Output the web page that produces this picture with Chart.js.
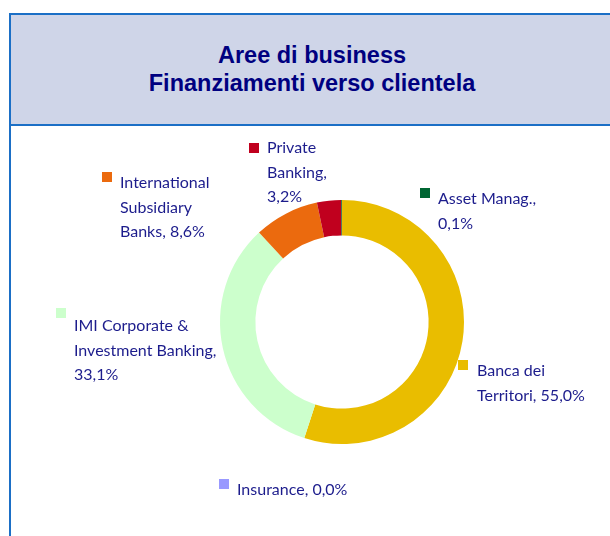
<!DOCTYPE html>
<html lang="it">
<head>
  <meta charset="UTF-8" />
  <title>Aree di business - Finanziamenti verso clientela</title>
  <script src="https://cdn.jsdelivr.net/npm/chart.js"></script>
  <style>
    html, body {
      margin: 0;
      padding: 0;
      background: #ffffff;
      width: 610px;
      height: 536px;
      overflow: hidden;
    }
    .header {
      position: absolute;
      left: 9px;
      top: 13px;
      width: 640px;
      height: 109px;
      background: #cfd5e8;
      border-top: 2px solid #1b6fc6;
      border-bottom: 2px solid #1b6fc6;
    }
    .left-line {
      position: absolute;
      left: 9px;
      top: 13px;
      width: 2px;
      height: 523px;
      background: #1b6fc6;
    }
    .title {
      position: absolute;
      left: 9px;
      width: 606px;
      top: 41px;
      text-align: center;
      font-family: "Liberation Sans", Arial, sans-serif;
      font-weight: bold;
      font-size: 23.5px;
      line-height: 28px;
      color: #000080;
    }
    canvas {
      position: absolute;
      left: 0;
      top: 0;
    }
  </style>
</head>
<body>
  <div class="header"></div>
  <div class="left-line"></div>
  <div class="title">Aree di business<br>Finanziamenti verso clientela</div>

  <canvas id="pie" width="610" height="536"></canvas>

  <script>
    // data, clockwise from 12 o'clock
    const categories = ["Banca dei Territori", "Insurance", "IMI Corporate & Investment Banking",
                        "International Subsidiary Banks", "Private Banking", "Asset Manag."];
    const shares = [55.0, 0.0, 33.1, 8.6, 3.2, 0.1];
    const colors = ["#e9bd00", "#9999ff", "#ccffcc", "#eb6a0e", "#c0001e", "#006633"];

    // label text lines ({v} = value) and placement relative to the ring centre
    const labelLines = [
      ["Banca dei", "Territori, {v}"],
      ["Insurance, {v}"],
      ["IMI Corporate &", "Investment Banking,", "{v}"],
      ["International", "Subsidiary", "Banks, {v}"],
      ["Private", "Banking,", "{v}"],
      ["Asset Manag.,", "{v}"]
    ];
    // [square dx, square dy, text dx, first line dy]
    const labelPos = [
      [116, 38, 135, 49],
      [-123, 157, -105, 168],
      [-286, -14, -268, 4],
      [-240, -150, -222, -139],
      [-93, -179, -75, -174],
      [78, -134, 96, -123]
    ];

    const fmt = v => v.toFixed(1).replace(".", ",") + "%";

    const sliceLabels = {
      id: "sliceLabels",
      afterDraw(chart) {
        const ctx = chart.ctx;
        const arc = chart.getDatasetMeta(0).data[0];
        const cx = arc.x, cy = arc.y;
        ctx.save();
        ctx.font = "16px Lato, 'Open Sans', sans-serif";
        ctx.textBaseline = "middle";
        ctx.textAlign = "left";
        shares.forEach((v, i) => {
          const p = labelPos[i];
          ctx.fillStyle = colors[i];
          ctx.fillRect(cx + p[0], cy + p[1], 10, 10);
          ctx.fillStyle = "#1c1c8c";
          labelLines[i].forEach((line, k) => {
            ctx.fillText(line.replace("{v}", fmt(v)), cx + p[2], cy + p[3] + k * 24.5);
          });
        });
        ctx.restore();
      }
    };

    new Chart(document.getElementById("pie"), {
      type: "doughnut",
      data: {
        labels: categories,
        datasets: [{
          data: shares,
          backgroundColor: colors,
          borderWidth: 0,
          hoverOffset: 0
        }]
      },
      options: {
        responsive: false,
        animation: false,
        cutout: "71%",
        rotation: 0,
        layout: {
          padding: { left: 220, right: 146, top: 200, bottom: 92 }
        },
        plugins: {
          legend: { display: false },
          tooltip: { enabled: false },
          title: { display: false }
        }
      },
      plugins: [sliceLabels]
    });
  </script>
</body>
</html>
